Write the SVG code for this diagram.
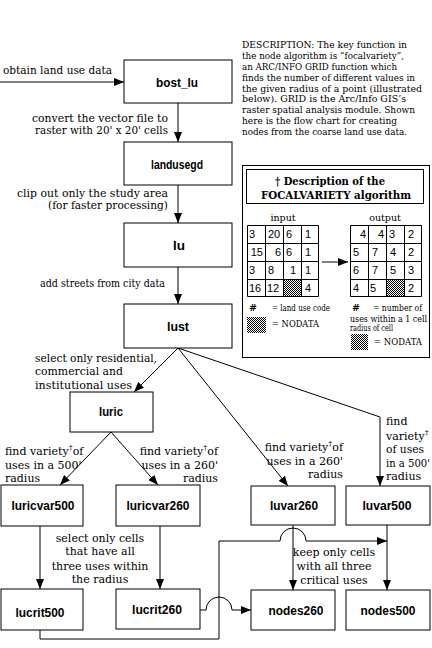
<svg xmlns="http://www.w3.org/2000/svg" width="432" height="648" viewBox="0 0 432 648">
<defs>
<style>
.box{fill:#fff;stroke:#000;stroke-width:1}
.lbl{font-family:"Liberation Sans",Arial,sans-serif;font-weight:bold;font-size:13px;text-anchor:middle;fill:#000}
.t{font-family:"DejaVu Serif","Liberation Serif",serif;font-size:11px;fill:#000}
.d{font-family:"DejaVu Serif","Liberation Serif",serif;font-size:9.5px;fill:#000}
.s{font-family:"DejaVu Serif","Liberation Serif",serif;font-size:9.5px;fill:#000}
.xs{font-family:"DejaVu Serif","Liberation Serif",serif;font-size:8.5px;fill:#000}
.g{font-family:"Liberation Sans",Arial,sans-serif;font-size:11px;fill:#000}
.ln{fill:none;stroke:#000;stroke-width:1}
.ttl{font-family:"DejaVu Serif","Liberation Serif",serif;font-weight:bold;font-size:11.5px;text-anchor:middle;fill:#000}
.sup{font-size:8px}
</style>
<marker id="ah" markerUnits="userSpaceOnUse" markerWidth="10" markerHeight="8" refX="10" refY="4" orient="auto">
<path d="M0,0 L10,4 L0,8 z" fill="#000"/>
</marker>
<pattern id="dots" width="2" height="2" patternUnits="userSpaceOnUse">
<rect width="2" height="2" fill="#fff"/>
<rect width="1" height="1" fill="#000"/>
<rect x="1" y="1" width="1" height="1" fill="#000"/>
</pattern>
</defs>
<rect width="432" height="648" fill="#fff"/>

<g id="connectors">
<line class="ln" x1="0" y1="82" x2="124" y2="82" marker-end="url(#ah)"/>
<line class="ln" x1="178" y1="103" x2="178" y2="142" marker-end="url(#ah)"/>
<line class="ln" x1="178" y1="185" x2="178" y2="223" marker-end="url(#ah)"/>
<line class="ln" x1="178" y1="267" x2="178" y2="304" marker-end="url(#ah)"/>
<line class="ln" x1="178" y1="348" x2="134" y2="392" marker-end="url(#ah)"/>
<line class="ln" x1="178" y1="348" x2="288" y2="486" marker-end="url(#ah)"/>
<polyline class="ln" points="178,348 380,417 380,486" marker-end="url(#ah)"/>
<line class="ln" x1="111" y1="432" x2="60" y2="485" marker-end="url(#ah)"/>
<line class="ln" x1="111" y1="432" x2="158" y2="485" marker-end="url(#ah)"/>
<line class="ln" x1="40" y1="526" x2="40" y2="589" marker-end="url(#ah)"/>
<line class="ln" x1="160" y1="526" x2="160" y2="589" marker-end="url(#ah)"/>
<line class="ln" x1="293" y1="525" x2="293" y2="590" marker-end="url(#ah)"/>
<line class="ln" x1="387" y1="525" x2="387" y2="590" marker-end="url(#ah)"/>
<path class="ln" d="M40,630 V639 H219 V541 H280 A13,13 0 0 1 306,541 H387" marker-end="url(#ah)"/>
<path class="ln" d="M200,610 H206 A13,13 0 0 1 232,610 H251" marker-end="url(#ah)"/>
</g>

<g id="edge-labels">
<text class="t" x="3" y="74" textLength="109" lengthAdjust="spacingAndGlyphs">obtain land use data</text>
<text class="t" x="32" y="122" textLength="136" lengthAdjust="spacingAndGlyphs">convert the vector file to</text>
<text class="t" x="35" y="134" textLength="133" lengthAdjust="spacingAndGlyphs">raster with 20' x 20' cells</text>
<text class="t" x="17" y="197" textLength="151" lengthAdjust="spacingAndGlyphs">clip out only the study area</text>
<text class="t" x="48" y="209" textLength="120" lengthAdjust="spacingAndGlyphs">(for faster processing)</text>
<text class="t" x="40" y="287" textLength="125" lengthAdjust="spacingAndGlyphs">add streets from city data</text>
<text class="t" x="35" y="362" textLength="122" lengthAdjust="spacingAndGlyphs">select only residential,</text>
<text class="t" x="35" y="375" textLength="88" lengthAdjust="spacingAndGlyphs">commercial and</text>
<text class="t" x="35" y="389" textLength="97" lengthAdjust="spacingAndGlyphs">institutional uses</text>
<text class="t" x="5" y="455">find variety<tspan class="sup" dy="-5">†</tspan><tspan dy="5">of</tspan></text>
<text class="t" x="5" y="469">uses in a 500'</text>
<text class="t" x="5" y="482">radius</text>
<text class="t" x="218" y="455" text-anchor="end">find variety<tspan class="sup" dy="-5">†</tspan><tspan dy="5">of</tspan></text>
<text class="t" x="218" y="469" text-anchor="end">uses in a 260'</text>
<text class="t" x="218" y="482" text-anchor="end">radius</text>
<text class="t" x="343" y="451" text-anchor="end">find variety<tspan class="sup" dy="-5">†</tspan><tspan dy="5">of</tspan></text>
<text class="t" x="343" y="465" text-anchor="end">uses in a 260'</text>
<text class="t" x="343" y="478" text-anchor="end">radius</text>
<text class="t" x="386" y="425">find</text>
<text class="t" x="386" y="440">variety<tspan class="sup" dy="-5">†</tspan></text>
<text class="t" x="386" y="453" textLength="38" lengthAdjust="spacingAndGlyphs">of uses</text>
<text class="t" x="386" y="467" textLength="44" lengthAdjust="spacingAndGlyphs">in a 500'</text>
<text class="t" x="386" y="480">radius</text>
<text class="t" x="100" y="542" text-anchor="middle">select only cells</text>
<text class="t" x="100" y="555" text-anchor="middle">that have all</text>
<text class="t" x="100" y="570" text-anchor="middle">three uses within</text>
<text class="t" x="100" y="583" text-anchor="middle">the radius</text>
<text class="t" x="334" y="556" text-anchor="middle">keep only cells</text>
<text class="t" x="334" y="570" text-anchor="middle">with all three</text>
<text class="t" x="334" y="584" text-anchor="middle">critical uses</text>
</g>

<g id="bost_lu"><rect class="box" x="124" y="60" width="108" height="43"/><text class="lbl" x="177" y="87" textLength="42" lengthAdjust="spacingAndGlyphs">bost_lu</text></g>
<g id="landusegd"><rect class="box" x="124" y="142" width="108" height="43"/><text class="lbl" x="177" y="169" textLength="52" lengthAdjust="spacingAndGlyphs">landusegd</text></g>
<g id="lu"><rect class="box" x="124" y="223" width="108" height="44"/><text class="lbl" x="179" y="250" textLength="12" lengthAdjust="spacingAndGlyphs">lu</text></g>
<g id="lust"><rect class="box" x="124" y="304" width="108" height="44"/><text class="lbl" x="178" y="331" textLength="22" lengthAdjust="spacingAndGlyphs">lust</text></g>
<g id="luric"><rect class="box" x="70" y="392" width="83" height="40"/><text class="lbl" x="111" y="416" textLength="24" lengthAdjust="spacingAndGlyphs">luric</text></g>
<g id="luricvar500"><rect class="box" x="1" y="485" width="82" height="41"/><text class="lbl" x="43" y="510" textLength="63" lengthAdjust="spacingAndGlyphs">luricvar500</text></g>
<g id="luricvar260"><rect class="box" x="116" y="485" width="84" height="41"/><text class="lbl" x="158" y="510" textLength="63" lengthAdjust="spacingAndGlyphs">luricvar260</text></g>
<g id="lucrit500"><rect class="box" x="1" y="589" width="82" height="41"/><text class="lbl" x="40" y="617" textLength="49" lengthAdjust="spacingAndGlyphs">lucrit500</text></g>
<g id="lucrit260"><rect class="box" x="116" y="589" width="84" height="40"/><text class="lbl" x="157" y="614" textLength="50" lengthAdjust="spacingAndGlyphs">lucrit260</text></g>
<g id="luvar260"><rect class="box" x="251" y="486" width="84" height="39"/><text class="lbl" x="294" y="510" textLength="48" lengthAdjust="spacingAndGlyphs">luvar260</text></g>
<g id="luvar500"><rect class="box" x="346" y="486" width="84" height="39"/><text class="lbl" x="387" y="510" textLength="49" lengthAdjust="spacingAndGlyphs">luvar500</text></g>
<g id="nodes260"><rect class="box" x="251" y="590" width="84" height="40"/><text class="lbl" x="296" y="615" textLength="55" lengthAdjust="spacingAndGlyphs">nodes260</text></g>
<g id="nodes500"><rect class="box" x="346" y="590" width="84" height="40"/><text class="lbl" x="388" y="615" textLength="55" lengthAdjust="spacingAndGlyphs">nodes500</text></g>

<g id="description">
<text class="d" x="242" y="48" textLength="165" lengthAdjust="spacingAndGlyphs">DESCRIPTION: The key function in</text>
<text class="d" x="242" y="59" textLength="162" lengthAdjust="spacingAndGlyphs">the node algorithm is “focalvariety”,</text>
<text class="d" x="242" y="70" textLength="155" lengthAdjust="spacingAndGlyphs">an ARC/INFO GRID function which</text>
<text class="d" x="242" y="81" textLength="173" lengthAdjust="spacingAndGlyphs">finds the number of different values in</text>
<text class="d" x="242" y="92" textLength="180" lengthAdjust="spacingAndGlyphs">the given radius of a point (illustrated</text>
<text class="d" x="242" y="102" textLength="164" lengthAdjust="spacingAndGlyphs">below). GRID is the Arc/Info GIS’s</text>
<text class="d" x="242" y="113" textLength="173" lengthAdjust="spacingAndGlyphs">raster spatial analysis module. Shown</text>
<text class="d" x="242" y="124" textLength="155" lengthAdjust="spacingAndGlyphs">here is the flow chart for creating</text>
<text class="d" x="242" y="135" textLength="165" lengthAdjust="spacingAndGlyphs">nodes from the coarse land use data.</text>
</g>

<g id="focalvariety-panel">
<rect class="box" x="242.5" y="165.5" width="187" height="192"/>
<rect class="box" x="246.5" y="169.5" width="177" height="34"/>
<text class="ttl" x="330" y="185" textLength="110" lengthAdjust="spacingAndGlyphs">† Description of the</text>
<text class="ttl" x="336" y="199" textLength="150" lengthAdjust="spacingAndGlyphs">FOCALVARIETY algorithm</text>
<text class="s" x="283" y="221" text-anchor="middle">input</text>
<text class="s" x="385" y="221" text-anchor="middle">output</text>
<g id="input-grid">
<rect x="283" y="279" width="18" height="18" fill="url(#dots)"/>
<path class="ln" d="M247.5,225.5 H318.5 V296.5 H247.5 Z M265.5,225.5 V296.5 M283.5,225.5 V296.5 M301.5,225.5 V296.5 M247.5,243.5 H318.5 M247.5,261.5 H318.5 M247.5,279.5 H318.5"/>
<text class="g" x="249" y="238">3</text><text class="g" x="268" y="238">20</text><text class="g" x="286" y="238">6</text><text class="g" x="305" y="238">1</text>
<text class="g" x="263" y="256" text-anchor="end">15</text><text class="g" x="281" y="256" text-anchor="end">6</text><text class="g" x="286" y="256">6</text><text class="g" x="305" y="256">1</text>
<text class="g" x="249" y="274">3</text><text class="g" x="268" y="274">8</text><text class="g" x="290" y="274">1</text><text class="g" x="305" y="274">1</text>
<text class="g" x="249" y="292">16</text><text class="g" x="267" y="292">12</text><text class="g" x="305" y="292">4</text>
</g>
<line class="ln" x1="322" y1="262" x2="348" y2="262" marker-end="url(#ah)"/>
<g id="output-grid">
<rect x="386" y="279" width="18" height="18" fill="url(#dots)"/>
<path class="ln" d="M350.5,225.5 H421.5 V296.5 H350.5 Z M368.5,225.5 V296.5 M386.5,225.5 V296.5 M404.5,225.5 V296.5 M350.5,243.5 H421.5 M350.5,261.5 H421.5 M350.5,279.5 H421.5"/>
<text class="g" x="366" y="238" text-anchor="end">4</text><text class="g" x="384" y="238" text-anchor="end">4</text><text class="g" x="389" y="238">3</text><text class="g" x="408" y="238">2</text>
<text class="g" x="353" y="256">5</text><text class="g" x="372" y="256">7</text><text class="g" x="390" y="256">4</text><text class="g" x="408" y="256">2</text>
<text class="g" x="353" y="274">6</text><text class="g" x="372" y="274">7</text><text class="g" x="390" y="274">5</text><text class="g" x="408" y="274">3</text>
<text class="g" x="353" y="292">4</text><text class="g" x="370" y="292">5</text><text class="g" x="408" y="292">2</text>
</g>
<text class="s" x="249" y="311" font-weight="bold">#</text>
<text class="s" x="272" y="311" textLength="58" lengthAdjust="spacingAndGlyphs">= land use code</text>
<rect x="247" y="317" width="19" height="16" fill="url(#dots)"/>
<text class="s" x="272" y="327" textLength="47" lengthAdjust="spacingAndGlyphs">= NODATA</text>
<text class="s" x="352" y="311" font-weight="bold">#</text>
<text class="s" x="373" y="311" textLength="49" lengthAdjust="spacingAndGlyphs">= number of</text>
<text class="xs" x="350" y="322" textLength="77" lengthAdjust="spacingAndGlyphs">uses within a 1 cell</text>
<text class="xs" x="350" y="331" textLength="43" lengthAdjust="spacingAndGlyphs">radius of cell</text>
<rect x="351" y="334" width="17" height="16" fill="url(#dots)"/>
<text class="s" x="374" y="345" textLength="48" lengthAdjust="spacingAndGlyphs">= NODATA</text>
</g>
</svg>
